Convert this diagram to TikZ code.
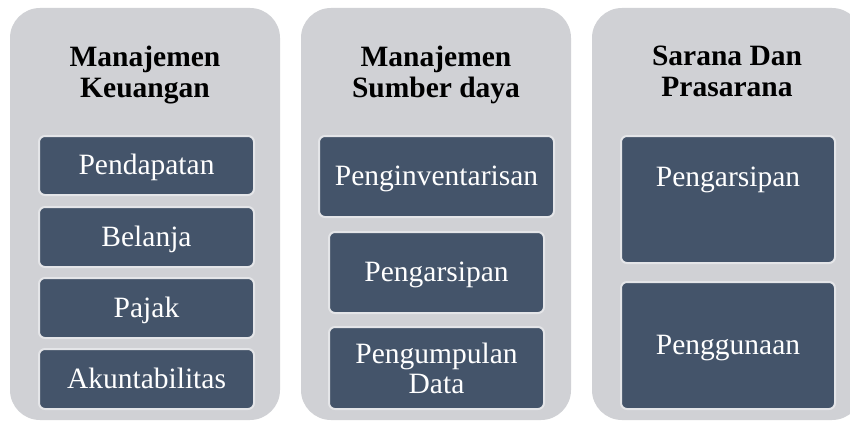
\documentclass[tikz,border=0pt]{standalone}
\usepackage{fontspec}
\setmainfont{Liberation Serif}
\usetikzlibrary{positioning}

\definecolor{panelgray}{HTML}{D0D1D5}
\definecolor{boxblue}{HTML}{44546A}
\definecolor{boxedge}{HTML}{E4E5E8}

\tikzset{
  panel/.style={fill=panelgray, rounded corners=30pt},
  title/.style={font=\fontsize{29.5}{31}\selectfont\bfseries, align=center, inner sep=0pt, anchor=north},
  item/.style={fill=boxblue, draw=boxedge, line width=2pt, rounded corners=6pt,
    text=white, font=\fontsize{29.5}{30}\selectfont, align=center, inner sep=2pt,
    anchor=north west, minimum width=215},
  oneline/.style={text height=21pt, text depth=3pt},
}

\begin{document}
\begin{tikzpicture}[x=1pt,y=-1pt]
    \clip (0,0) rectangle (850,428);
    \fill[white] (0,0) rectangle (850,428);

    % panels
    \fill[panel] (10,8) rectangle (280,420);
    \fill[panel] (301,8) rectangle (571,420);
    \fill[panel] (592,8) rectangle (862,420);

    % Manajemen Keuangan
    \node[title] (keu) at (145,46) {Manajemen\\Keuangan};
    \node[item, oneline, minimum height=59] (pend) at (38,135) {Pendapatan};
    \node[item, oneline, minimum height=60] (bel) at (38,206) {Belanja};
    \node[item, oneline, minimum height=60] (paj) at (38,277) {Pajak};
    \node[item, oneline, minimum height=60] (akun) at (38,348) {Akuntabilitas};

    % Manajemen Sumber daya
    \node[title] (sdm) at (436,46) {Manajemen\\Sumber daya};
    \node[item, oneline, minimum width=235, minimum height=81] (inv) at (318,135) {Penginventarisan};
    \node[item, oneline, minimum height=81] (arsipB) at (328,231) {Pengarsipan};
    \node[item, minimum height=82] (kumpul) at (328,326) {Pengumpulan\\Data};

    % Sarana Dan Prasarana
    \node[title] (sar) at (727,46) {Sarana Dan\\Prasarana};
    \node[item, minimum width=214, inner sep=0pt, text height=50pt, text depth=77pt] (arsipC) at (620,135) {Pengarsipan};
    \node[item, oneline, minimum width=214, minimum height=127] (guna) at (620,281) {Penggunaan};
\end{tikzpicture}
\end{document}
